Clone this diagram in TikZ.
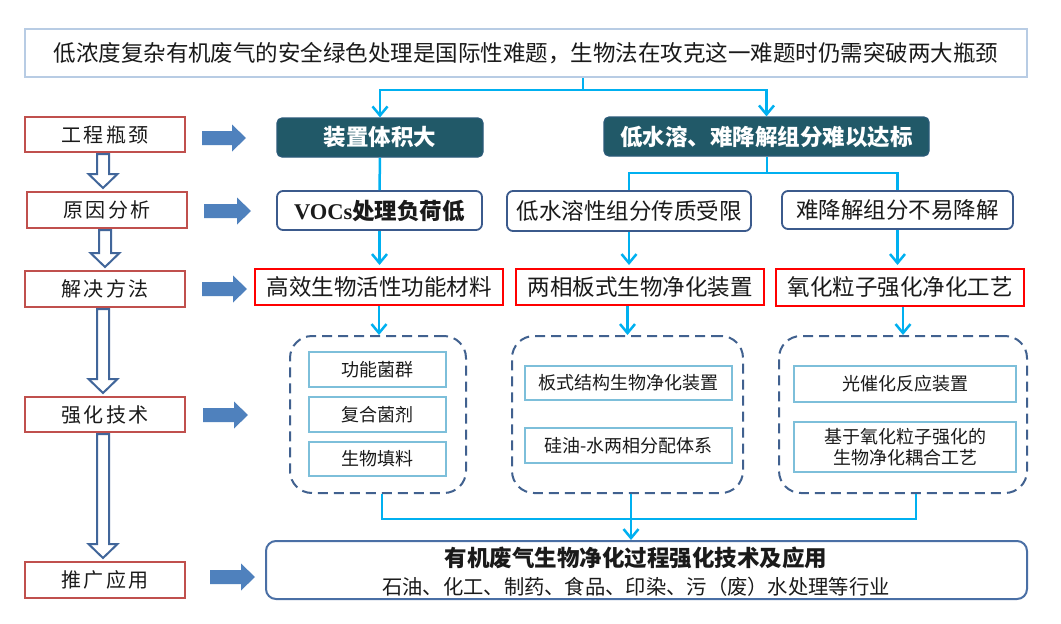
\documentclass[tikz,border=0pt]{standalone}
\usepackage{fontspec}
\setmainfont{Noto Sans CJK SC}
\newfontfamily\timesf{Liberation Serif}
\usetikzlibrary{arrows.meta,calc}
\definecolor{txtc}{HTML}{1A1A1A}
\definecolor{topc}{HTML}{B8CCE4}
\definecolor{darkc}{HTML}{215968}
\definecolor{darkb}{HTML}{2A5A78}
\definecolor{causec}{HTML}{3B5A8C}
\definecolor{leftc}{HTML}{C0504D}
\definecolor{holc}{HTML}{41669A}
\definecolor{blkc}{HTML}{4F81BD}
\definecolor{grpc}{HTML}{41618F}
\definecolor{innc}{HTML}{7DBFDA}
\definecolor{connc}{HTML}{00B0F0}
\definecolor{botc}{HTML}{4A6FA5}
\newcommand\bluearrow[3]{\fill[blkc] (#1,{#3-7}) -- ({#2-14},{#3-7}) -- ({#2-14},{#3-13.5}) -- (#2,#3) -- ({#2-14},{#3+13.5}) -- ({#2-14},{#3+7}) -- (#1,{#3+7}) -- cycle;}
\newcommand\hollowarrow[2]{\draw[harrow] let \p1=(#1.south), \p2=(#2.north) in (\x1-8pt,\y1-1pt) -- (\x1+4pt,\y1-1pt) -- (\x1+4pt,\y2+17pt) -- (\x1+12.5pt,\y2+17pt) -- (\x1-2pt,\y2+3pt) -- (\x1-16.5pt,\y2+17pt) -- (\x1-8pt,\y2+17pt) -- cycle;}
\begin{document}
\begin{tikzpicture}[x=1pt,y=-1pt,
  box/.style={rectangle, inner sep=0pt, align=center, text=txtc},
  topbox/.style={box, draw=topc, line width=2pt, minimum width=1002pt, minimum height=48pt, font=\fontsize{22.5pt}{27pt}\selectfont},
  darkbox/.style={box, fill=darkc, draw=darkb, line width=1.2pt, rounded corners=5pt, minimum height=39pt, text=white, font=\fontsize{22.5pt}{27pt}\selectfont\bfseries},
  causebox/.style={box, draw=causec, line width=1.8pt, rounded corners=6pt, font=\fontsize{22.5pt}{27pt}\selectfont},
  solbox/.style={box, draw=red, line width=2pt, minimum width=248pt, font=\fontsize{22.5pt}{27pt}\selectfont},
  group/.style={rectangle, draw=grpc, line width=2pt, dash pattern=on 10pt off 6pt, rounded corners=22pt, minimum height=157pt},
  inner/.style={box, draw=innc, line width=1.6pt, font=\fontsize{18pt}{21pt}\selectfont},
  leftbox/.style={box, draw=leftc, line width=2pt, minimum width=160pt, font=\fontsize{20pt}{24pt}\selectfont},
  conn/.style={draw=connc, line width=2.5pt},
  arr/.style={-{Straight Barb[length=9pt,width=15pt]}},
  harrow/.style={draw=holc, line width=2pt, fill=white, line join=miter},
  botbox/.style={box, draw=botc, line width=2pt, rounded corners=10pt, minimum width=761pt, minimum height=58pt}
]
\useasboundingbox (0,0) rectangle (1061,624);
\fill[white] (0,0) rectangle (1061,624);

% top
\node[topbox] (top) at (526,53) {低浓度复杂有机废气的安全绿色处理是国际性难题，生物法在攻克这一难题时仍需突破两大瓶颈};

% left column
\node[leftbox, minimum height=35pt] (L1) at (105,134.5) {工\hspace{2.5pt}程\hspace{2.5pt}瓶\hspace{2.5pt}颈};
\node[leftbox, minimum height=36pt] (L2) at (107,210) {原\hspace{2.5pt}因\hspace{2.5pt}分\hspace{2.5pt}析};
\node[leftbox, minimum height=36pt] (L3) at (105,289) {解\hspace{2.5pt}决\hspace{2.5pt}方\hspace{2.5pt}法};
\node[leftbox, minimum height=35pt] (L4) at (105,414.5) {强\hspace{2.5pt}化\hspace{2.5pt}技\hspace{2.5pt}术};
\node[leftbox, minimum height=36pt] (L5) at (105,580) {推\hspace{2.5pt}广\hspace{2.5pt}应\hspace{2.5pt}用};

\hollowarrow{L1}{L2}
\hollowarrow{L2}{L3}
\hollowarrow{L3}{L4}
\hollowarrow{L4}{L5}

\bluearrow{202}{246}{138}
\bluearrow{204}{251}{211}
\bluearrow{202}{247}{289}
\bluearrow{203}{248}{415}
\bluearrow{210}{255}{577}

% row 1
\node[darkbox, minimum width=206pt] (d1) at (380,137.5) {装置体积大};
\node[darkbox, minimum width=325pt] (d2) at (766.5,136.5) {低水溶、难降解组分难以达标};

% row 2
\node[causebox, minimum width=205pt, minimum height=39pt] (c1) at (379.5,210.5) {{\timesf\bfseries VOCs}\textbf{处理负荷低}};
\node[causebox, minimum width=244pt, minimum height=40pt] (c2) at (629,211) {低水溶性组分传质受限};
\node[causebox, minimum width=231pt, minimum height=38pt] (c3) at (897.5,210) {难降解组分不易降解};

% row 3
\node[solbox, minimum height=36pt] (s1) at (379,287) {高效生物活性功能材料};
\node[solbox, minimum height=36pt] (s2) at (640,287) {两相板式生物净化装置};
\node[solbox, minimum height=37pt] (s3) at (900,287.5) {氧化粒子强化净化工艺};

% groups
\node[group, minimum width=176pt] (g1) at (378,414.5) {};
\node[group, minimum width=231pt] (g2) at (627.5,414.5) {};
\node[group, minimum width=248pt] (g3) at (903,414.5) {};

\node[inner, minimum width=137pt, minimum height=35pt] (i11) at (377.5,369.5) {功能菌群};
\node[inner, minimum width=137pt, minimum height=35pt] (i12) at (377.5,414.5) {复合菌剂};
\node[inner, minimum width=137pt, minimum height=34pt] (i13) at (377.5,459) {生物填料};
\node[inner, minimum width=207pt, minimum height=34pt] (i21) at (628.5,383) {板式结构生物净化装置};
\node[inner, minimum width=207pt, minimum height=35pt] (i22) at (628.5,445.5) {硅油-水两相分配体系};
\node[inner, minimum width=222pt, minimum height=36pt] (i31) at (905,384) {光催化反应装置};
\node[inner, minimum width=222pt, minimum height=50pt] (i32) at (905,447) {基于氧化粒子强化的\\生物净化耦合工艺};

% bottom
\node[botbox] (bot) at (646.5,570) {};
\node[box, font=\fontsize{22.5pt}{27pt}\selectfont\bfseries] (bt1) at (636,558) {有机废气生物净化过程强化技术及应用};
\node[box, font=\fontsize{20.3pt}{24pt}\selectfont] (bt2) at (636,587) {石油、化工、制药、食品、印染、污（废）水处理等行业};

% connectors
\coordinate (j0) at (583,90);
\draw[conn] (top.south -| j0) -- (j0);
\draw[conn,arr] (j0) -| (d1.north);
\draw[conn,arr] (j0) -| (d2.north);
\draw[conn] (d1.south) -- (c1.north);
\coordinate (j1) at (767,173);
\draw[conn] (d2.south -| j1) -- (j1);
\draw[conn] (j1) -| (c2.north);
\draw[conn] (j1) -| (c3.north);
\draw[conn,arr,shorten >=3pt] (c1.south) -- (c1.south |- s1.north);
\draw[conn,arr,shorten >=3pt] (c2.south) -- (c2.south |- s2.north);
\draw[conn,arr,shorten >=3pt] (c3.south) -- (c3.south |- s3.north);
\draw[conn,arr] (s1.south) -- (s1.south |- g1.north);
\draw[conn,arr] (g2.north |- s2.south) -- (g2.north);
\draw[conn,arr] (s3.south -| g3.north) -- (g3.north);
\coordinate (jb) at (631,519);
\draw[conn] ([xshift=4pt]g1.south) |- ([xshift=13pt]g3.south |- jb) -- ([xshift=13pt]g3.south);
\draw[conn,arr] (g2.south -| jb) -- (jb |- bot.north);
\end{tikzpicture}
\end{document}
